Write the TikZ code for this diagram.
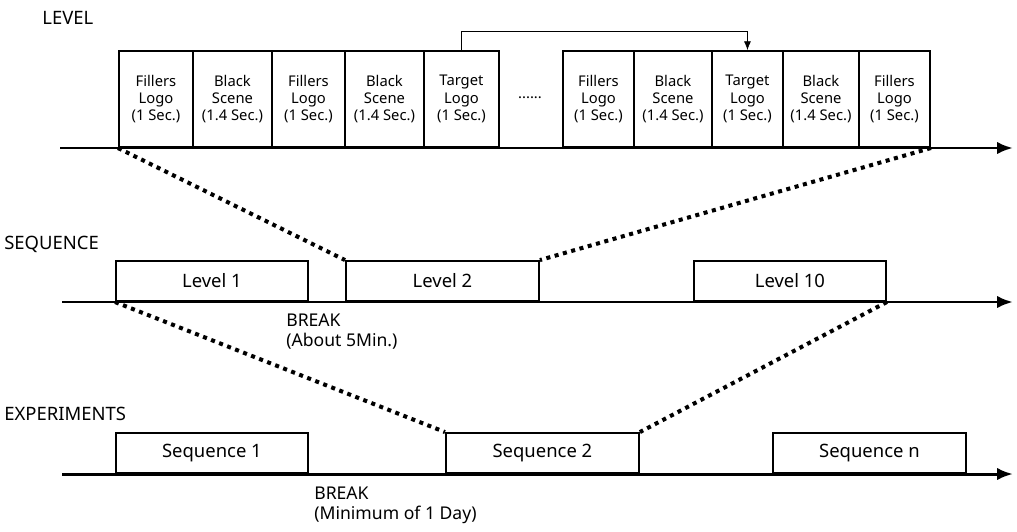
\documentclass[tikz,border=0pt]{standalone}
\usepackage{fontspec}
\setmainfont{Noto Sans}
\usetikzlibrary{arrows.meta}

\begin{document}
\begin{tikzpicture}[x=0.02cm,y=-0.02cm]
  \tikzstyle{cell}=[draw, line width=1.1pt, anchor=south west, minimum height=1.92cm,
                    inner sep=0pt, align=center, font=\fontsize{8.4}{9.9}\selectfont]
  \tikzstyle{slot}=[draw, line width=1.1pt, anchor=south west, minimum height=0.8cm,
                    inner sep=0pt, font=\fontsize{10.5}{12}\selectfont]
  \tikzstyle{axis}=[line width=1.7pt, -{Latex[length=9pt,width=7pt]}]
  \tikzstyle{zoom}=[line width=2.3pt, dash pattern=on 2.3pt off 2.6pt]
  \tikzstyle{title}=[anchor=west, inner sep=0pt, font=\fontsize{10.5}{12}\selectfont]
  \tikzstyle{note}=[anchor=north west, inner sep=0pt, align=left, font=\fontsize{10}{11}\selectfont]
  \useasboundingbox (0,0) rectangle (1017,531);

  % level
  \node[title] (tlevel) at (42,18) {LEVEL};
  \foreach \l/\r/\t [count=\i] in {118/192/{Fillers\\Logo\\(1 Sec.)},
                                   192/271/{Black\\Scene\\(1.4 Sec.)},
                                   271/344/{Fillers\\Logo\\(1 Sec.)},
                                   344/423/{Black\\Scene\\(1.4 Sec.)},
                                   423/498/{Target\\Logo\\(1 Sec.)},
                                   562/633/{Fillers\\Logo\\(1 Sec.)},
                                   633/711/{Black\\Scene\\(1.4 Sec.)},
                                   711/782/{Target\\Logo\\(1 Sec.)},
                                   782/858/{Black\\Scene\\(1.4 Sec.)},
                                   858/929/{Fillers\\Logo\\(1 Sec.)}}
    \node[cell, minimum width={(\r-\l)*0.02cm}] (c\i) at (\l,148) {\t};
  \node[font=\fontsize{8.4}{9.9}\selectfont] (dots) at (530,98) {......};
  \draw[-{Latex[length=5pt,width=4pt]}] (c5.north) -- ++(0,-19) -| (c8.north);
  \coordinate (l0) at (60,148);
  \coordinate (l1) at (1013,148);
  \draw[axis] (l0) -- (l1);

  % sequence
  \node[title] (tseq) at (4,244) {SEQUENCE};
  \node[slot, minimum width=3.84cm] (lv1) at (115,302) {Level 1};
  \node[slot, minimum width=3.86cm] (lv2) at (345,302) {Level 2};
  \node[slot, minimum width=3.84cm] (lv10) at (693,302) {Level 10};
  \node[note] (brk1) at (286,314) {BREAK\\(About 5Min.)};
  \coordinate (s0) at (62,302);
  \coordinate (s1) at (1013,302);
  \draw[axis] (s0) -- (s1);

  % experiments
  \node[title] (texp) at (4,414) {EXPERIMENTS};
  \node[slot, minimum width=3.84cm] (sq1) at (115,474) {Sequence 1};
  \node[slot, minimum width=3.86cm] (sq2) at (445,474) {Sequence 2};
  \node[slot, minimum width=3.86cm] (sqn) at (772,474) {Sequence n};
  \node[note] (brk2) at (314,487) {BREAK\\(Minimum of 1 Day)};
  \coordinate (e0) at (62,474);
  \coordinate (e1) at (1013,474);
  \draw[axis] (e0) -- (e1);

  % zoom lines
  \draw[zoom] (c1.south west) -- (lv2.north west);
  \draw[zoom] (c10.south east) -- (lv2.north east);
  \draw[zoom] (lv1.south west) -- (sq2.north west);
  \draw[zoom] (lv10.south east) -- (sq2.north east);
\end{tikzpicture}
\end{document}
